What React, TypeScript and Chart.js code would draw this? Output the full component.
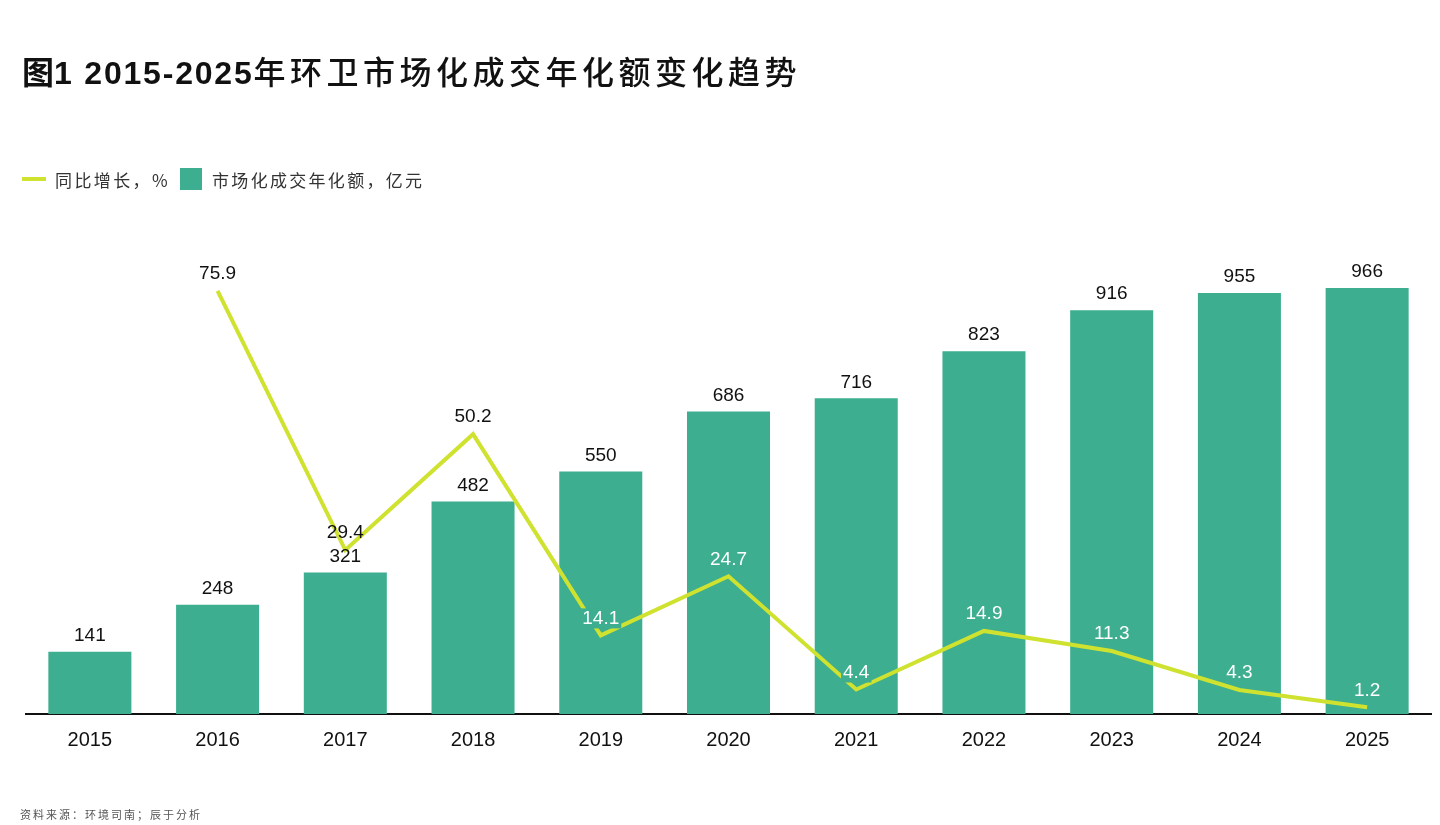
import React, { useEffect, useRef } from "react";
import { Chart, registerables } from "chart.js";

Chart.register(...registerables);

const years: string[] = ["2015", "2016", "2017", "2018", "2019", "2020", "2021", "2022", "2023", "2024", "2025"];
const amounts: number[] = [141, 248, 321, 482, 550, 686, 716, 823, 916, 955, 966];
const growth: (number | null)[] = [null, 75.9, 29.4, 50.2, 14.1, 24.7, 4.4, 14.9, 11.3, 4.3, 1.2];
const whiteGrowthLabel: boolean[] = [false, false, false, false, true, true, true, true, true, true, true];

const BAR_COLOR = "#3dae8f";
const LINE_COLOR = "#cfe22f";
const NUM_FONT = '"Liberation Sans", Arial, sans-serif';
const CJK_FONT = '"Noto Sans CJK SC", "Noto Sans", sans-serif';

const labelPlugin = {
  id: "valueLabels",
  afterDatasetsDraw(chart: any) {
    const ctx = chart.ctx;
    ctx.save();
    ctx.font = `19px ${NUM_FONT}`;
    ctx.textAlign = "center";
    ctx.textBaseline = "middle";
    const barMeta = chart.getDatasetMeta(1);
    barMeta.data.forEach((el: any, i: number) => {
      ctx.fillStyle = "#111111";
      ctx.fillText(String(amounts[i]), el.x, el.y - 16);
    });
    const lineMeta = chart.getDatasetMeta(0);
    lineMeta.data.forEach((el: any, i: number) => {
      const v = growth[i];
      if (v === null || v === undefined) return;
      const txt = v.toFixed(1);
      const y = el.y - 17;
      if (whiteGrowthLabel[i]) {
        const w = ctx.measureText(txt).width + 4;
        ctx.fillStyle = BAR_COLOR;
        ctx.fillRect(el.x - w / 2, y - 10, w, 20);
        ctx.fillStyle = "#ffffff";
      } else {
        ctx.fillStyle = "#111111";
      }
      ctx.fillText(txt, el.x, y);
    });
    ctx.restore();
  },
};

function ChartCanvas() {
  const ref = useRef<HTMLCanvasElement | null>(null);
  useEffect(() => {
    if (!ref.current) return;
    const chart = new Chart(ref.current, {
      type: "bar",
      data: {
        labels: years,
        datasets: [
          {
            type: "line",
            label: "同比增长，%",
            data: growth,
            yAxisID: "y1",
            borderColor: LINE_COLOR,
            backgroundColor: LINE_COLOR,
            borderWidth: 4,
            pointRadius: 0,
            tension: 0,
            borderJoinStyle: "miter",
            order: 0,
          } as any,
          {
            type: "bar",
            label: "市场化成交年化额，亿元",
            data: amounts,
            yAxisID: "y",
            backgroundColor: BAR_COLOR,
            categoryPercentage: 1,
            barPercentage: 0.65,
            order: 1,
          } as any,
        ],
      },
      options: {
        responsive: false,
        animation: false,
        layout: { padding: { left: 26, right: 9, top: 229, bottom: 59 } },
        plugins: {
          legend: { display: false },
          title: { display: false },
          tooltip: { enabled: false },
        },
        scales: {
          x: {
            grid: { display: false, drawTicks: false },
            border: { display: true, color: "#111111", width: 2 },
            ticks: {
              color: "#111111",
              font: { family: NUM_FONT, size: 20 },
              padding: 14,
            },
          },
          y: {
            display: false,
            min: 0,
            max: 1100,
          },
          y1: {
            display: false,
            min: 0,
            max: 87,
            position: "right",
          },
        },
      } as any,
      plugins: [labelPlugin],
    });
    return () => chart.destroy();
  }, []);
  return (
    <canvas
      ref={ref}
      width={1440}
      height={825}
      style={{ position: "absolute", left: 0, top: 0, width: 1440, height: 825, display: "block" }}
    />
  );
}

export default function App() {
  return (
    <div
      style={{
        position: "fixed",
        left: 0,
        top: 0,
        width: 1440,
        height: 825,
        background: "#ffffff",
        overflow: "hidden",
      }}
    >
      <ChartCanvas />
      <div
        style={{
          position: "absolute",
          left: 22,
          top: 48,
          height: 44,
          lineHeight: "44px",
          fontSize: 32,
          color: "#111111",
          whiteSpace: "nowrap",
        }}
      >
        <span style={{ fontFamily: CJK_FONT, fontWeight: 700 }}>图</span>
        <span style={{ fontFamily: NUM_FONT, fontWeight: 700, letterSpacing: 1.8 }}>1 2015-2025</span>
        <span style={{ fontFamily: CJK_FONT, fontWeight: 500, letterSpacing: 4.5 }}>
          年环卫市场化成交年化额变化趋势
        </span>
      </div>
      <div
        style={{
          position: "absolute",
          left: 22,
          top: 166,
          height: 26,
          display: "flex",
          alignItems: "center",
          whiteSpace: "nowrap",
          fontFamily: CJK_FONT,
          fontSize: 17,
          color: "#333333",
        }}
      >
        <span style={{ display: "inline-block", width: 24, height: 4, background: LINE_COLOR }} />
        <span style={{ marginLeft: 9, letterSpacing: 2.4 }}>同比增长，%</span>
        <span
          style={{ display: "inline-block", width: 22, height: 22, background: BAR_COLOR, marginLeft: 10 }}
        />
        <span style={{ marginLeft: 10, letterSpacing: 2.3 }}>市场化成交年化额，亿元</span>
      </div>
      <div
        style={{
          position: "absolute",
          left: 20,
          top: 806,
          fontFamily: CJK_FONT,
          fontSize: 11,
          letterSpacing: 2,
          color: "#555555",
          whiteSpace: "nowrap",
        }}
      >
        资料来源：环境司南；辰于分析
      </div>
    </div>
  );
}
